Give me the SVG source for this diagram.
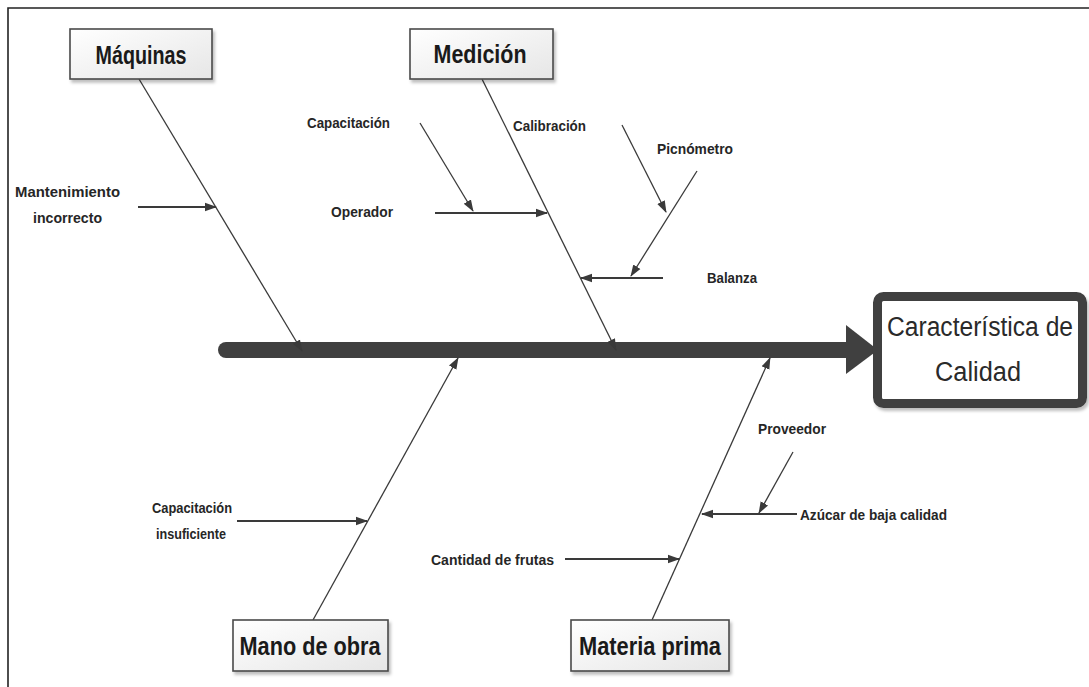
<svg xmlns="http://www.w3.org/2000/svg" width="1089" height="687" viewBox="0 0 1089 687">
<defs>
<linearGradient id="boxFill" x1="0" y1="0" x2="1" y2="1">
<stop offset="0" stop-color="#ffffff"/>
<stop offset="1" stop-color="#e6e6e6"/>
</linearGradient>
<filter id="shadow" x="-10%" y="-10%" width="130%" height="140%">
<feDropShadow dx="2" dy="3" stdDeviation="1.5" flood-color="#000" flood-opacity="0.25"/>
</filter>
<marker id="arr" markerUnits="userSpaceOnUse" markerWidth="12" markerHeight="10" viewBox="0 0 12 10" refX="11" refY="5" orient="auto">
<path d="M0,0.8 L12,5 L0,9.2 z" fill="#3a3a3a"/>
</marker>
</defs>
<style>
.frame{fill:none;stroke:#222;stroke-width:1.6}
.cat rect{fill:url(#boxFill);stroke:#4a4a4a;stroke-width:1.6}
.cat text{font-family:"Liberation Sans",Arial,sans-serif;font-weight:bold;font-size:25px;fill:#1a1a1a;text-anchor:middle}
.lbl{font-family:"Liberation Sans",Arial,sans-serif;font-weight:bold;font-size:14px;fill:#262626}
.bone{stroke:#3a3a3a;stroke-width:1.3;fill:none}
.sub{stroke:#3a3a3a;stroke-width:2;fill:none}
.eff text{font-family:"Liberation Sans",Arial,sans-serif;font-size:25px;fill:#2a2a2a;text-anchor:middle}
</style>
<rect width="1089" height="687" fill="#fff"/>
<path class="frame" d="M1089,8 L8,8 L8,687"/>

<g id="connectors">
<line x1="226" y1="350" x2="852" y2="350" stroke="#404040" stroke-width="16" stroke-linecap="round"/>
<polygon points="846,325 878,350 846,374" fill="#404040"/>
<line class="bone" x1="139" y1="79" x2="302" y2="351" marker-end="url(#arr)"/>
<line class="bone" x1="482" y1="79" x2="616" y2="350" marker-end="url(#arr)"/>
<line class="bone" x1="313" y1="620" x2="458" y2="358" marker-end="url(#arr)"/>
<line class="bone" x1="652" y1="620" x2="770" y2="358" marker-end="url(#arr)"/>
<line class="sub" x1="138" y1="207" x2="216" y2="207" marker-end="url(#arr)"/>
<line class="sub" x1="435" y1="213" x2="547" y2="213" marker-end="url(#arr)"/>
<line class="bone" x1="420" y1="123" x2="473" y2="211" marker-end="url(#arr)"/>
<line class="bone" x1="622" y1="125" x2="666" y2="212" marker-end="url(#arr)"/>
<line class="bone" x1="697" y1="171" x2="631" y2="276" marker-end="url(#arr)"/>
<line class="sub" x1="663" y1="278" x2="581" y2="278" marker-end="url(#arr)"/>
<line class="sub" x1="237" y1="521" x2="367" y2="521" marker-end="url(#arr)"/>
<line class="bone" x1="793" y1="452" x2="759" y2="513" marker-end="url(#arr)"/>
<line class="sub" x1="797" y1="514" x2="702" y2="514" marker-end="url(#arr)"/>
<line class="sub" x1="565" y1="559" x2="679" y2="559" marker-end="url(#arr)"/>
</g>

<g id="maquinas" class="cat">
<rect x="70" y="29" width="142" height="50" filter="url(#shadow)"/>
<text x="141" y="64" textLength="91" lengthAdjust="spacingAndGlyphs">Máquinas</text>
</g>
<g id="medicion" class="cat">
<rect x="410" y="29" width="143" height="50" filter="url(#shadow)"/>
<text x="480" y="63" textLength="93" lengthAdjust="spacingAndGlyphs">Medición</text>
</g>
<g id="mano-de-obra" class="cat">
<rect x="233" y="620" width="155" height="51" filter="url(#shadow)"/>
<text x="310" y="655" textLength="141" lengthAdjust="spacingAndGlyphs">Mano de obra</text>
</g>
<g id="materia-prima" class="cat">
<rect x="571" y="620" width="158" height="51" filter="url(#shadow)"/>
<text x="650" y="655" textLength="142" lengthAdjust="spacingAndGlyphs">Materia prima</text>
</g>

<g id="caracteristica-de-calidad" class="eff">
<rect x="877.5" y="296.5" width="205" height="107" rx="6" fill="#fff" stroke="#404040" stroke-width="9" filter="url(#shadow)"/>
<text transform="translate(980,336) scale(1,1.12)" x="0" y="0" textLength="186" lengthAdjust="spacingAndGlyphs">Característica de</text>
<text transform="translate(978,381) scale(1,1.12)" x="0" y="0" textLength="86" lengthAdjust="spacingAndGlyphs">Calidad</text>
</g>

<g id="mantenimiento-incorrecto">
<text class="lbl" x="15" y="197" textLength="105" lengthAdjust="spacingAndGlyphs">Mantenimiento</text>
<text class="lbl" x="33" y="223" textLength="69" lengthAdjust="spacingAndGlyphs">incorrecto</text>
</g>
<g id="capacitacion"><text class="lbl" x="307" y="128" textLength="83" lengthAdjust="spacingAndGlyphs">Capacitación</text></g>
<g id="calibracion"><text class="lbl" x="513" y="131" textLength="73" lengthAdjust="spacingAndGlyphs">Calibración</text></g>
<g id="picnometro"><text class="lbl" x="657" y="154" textLength="76" lengthAdjust="spacingAndGlyphs">Picnómetro</text></g>
<g id="operador"><text class="lbl" x="331" y="217" textLength="62" lengthAdjust="spacingAndGlyphs">Operador</text></g>
<g id="balanza"><text class="lbl" x="707" y="283" textLength="50" lengthAdjust="spacingAndGlyphs">Balanza</text></g>
<g id="capacitacion-insuficiente">
<text class="lbl" x="152" y="513" textLength="80" lengthAdjust="spacingAndGlyphs">Capacitación</text>
<text class="lbl" x="156" y="539" textLength="70" lengthAdjust="spacingAndGlyphs">insuficiente</text>
</g>
<g id="proveedor"><text class="lbl" x="758" y="434" textLength="68" lengthAdjust="spacingAndGlyphs">Proveedor</text></g>
<g id="azucar-de-baja-calidad"><text class="lbl" x="800" y="520" textLength="147" lengthAdjust="spacingAndGlyphs">Azúcar de baja calidad</text></g>
<g id="cantidad-de-frutas"><text class="lbl" x="431" y="565" textLength="123" lengthAdjust="spacingAndGlyphs">Cantidad de frutas</text></g>
</svg>
